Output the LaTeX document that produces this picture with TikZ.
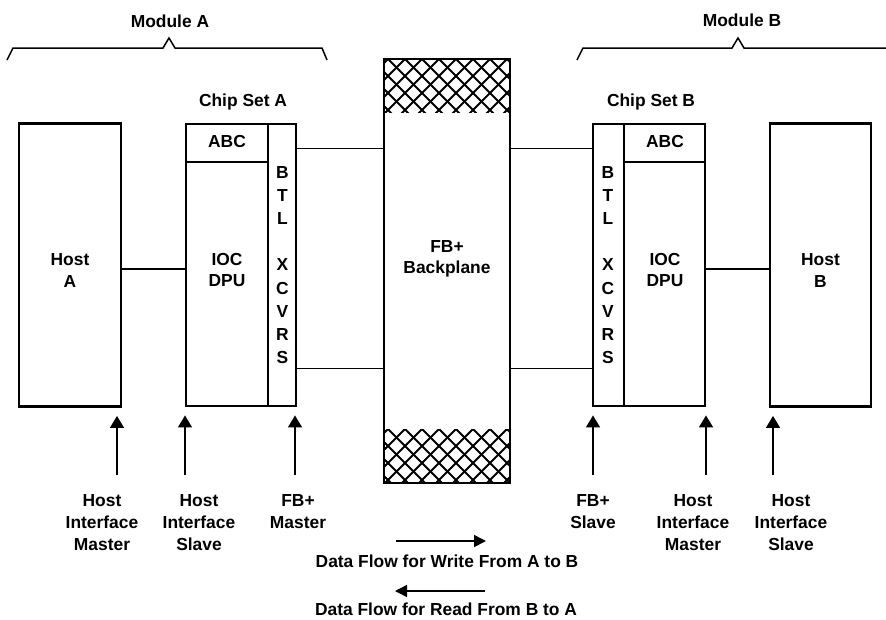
\documentclass[tikz,border=0pt]{standalone}
\usepackage{fontspec}
\setmainfont{Liberation Sans}
\usetikzlibrary{arrows.meta}
\begin{document}
\begin{tikzpicture}[x=1pt,y=-1pt,
  blk/.style={draw,line width=2.8pt,inner sep=0pt},
  divider/.style={line width=2pt},
  lbl/.style={font=\fontsize{17.4}{22}\selectfont\bfseries,align=center,inner sep=0pt},
  conn/.style={line width=1.2pt},
  arr/.style={line width=1.5pt,shorten >=8pt,-{Triangle[length=12pt,width=14pt]}},
  flow/.style={line width=1.5pt,-{Triangle[length=12pt,width=12pt]}},
  bracket/.style={line width=1.5pt,line join=miter},
  hatch/.style={line width=2pt}]
\useasboundingbox (0,0) rectangle (886,619);
\fill[white] (0,0) rectangle (886,619);

% module brackets
\node[lbl] (modA) at (170,21) {Module A};
\draw[bracket] (7,60) -- (13,48) -- (163,48) -- (169,38) -- (175,48) -- (322,48) -- (327,60);
\node[lbl] (modB) at (742,20) {Module B};
\draw[bracket] (577,60) -- (583,48) -- (732,48) -- (738,38) -- (744,48) -- (886,48);

% backplane hatching
\begin{scope}
  \clip (384,59) rectangle (510,112);
  \foreach \k in {-4,...,11} {
    \draw[hatch] (388+17*\k,59) -- ++(60,60);
    \draw[hatch] (388+17*\k,59) -- ++(-60,60);
  }
\end{scope}
\begin{scope}
  \clip (384,429) rectangle (510,483);
  \foreach \k in {-4,...,11} {
    \draw[hatch] (388+17*\k,429) -- ++(60,60);
    \draw[hatch] (388+17*\k,429) -- ++(-60,60);
  }
\end{scope}

% boxes
\node[blk,minimum width=102pt,minimum height=283pt] (hostA) at (70,265) {};
\node[blk,minimum width=110pt,minimum height=282pt] (chipA) at (241,265) {};
\node[blk,minimum width=126pt,minimum height=424pt] (bp) at (447,271) {};
\node[blk,minimum width=112pt,minimum height=282pt] (chipB) at (649,265) {};
\node[blk,minimum width=101pt,minimum height=283pt] (hostB) at (820.5,265) {};

% chip set internal dividers
\draw[divider] (268,124) -- (268,406);
\draw[divider] (186,162) -- (268,162);
\draw[divider] (624,124) -- (624,406);
\draw[divider] (624,162) -- (705,162);

% titles
\node[lbl] (csA) at (243,102) {Chip Set A};
\node[lbl] (csB) at (651,102) {Chip Set B};

% box texts
\node[lbl] (hostAt) at (70,271) {Host\\A};
\node[lbl] (abcA) at (227,142) {ABC};
\node[lbl,font=\fontsize{17.4}{21}\selectfont\bfseries] (iocA) at (227,270.5) {IOC\\DPU};
\node[lbl,font=\fontsize{17.4}{23.2}\selectfont\bfseries] (btlA) at (282.5,265) {B\\T\\L\\[23.2pt]X\\C\\V\\R\\S};
\node[lbl,font=\fontsize{17.4}{21}\selectfont\bfseries] (bpt) at (447,259) {FB+\\Backplane};
\node[lbl,font=\fontsize{17.4}{23.2}\selectfont\bfseries] (btlB) at (608,265) {B\\T\\L\\[23.2pt]X\\C\\V\\R\\S};
\node[lbl] (abcB) at (665,142) {ABC};
\node[lbl,font=\fontsize{17.4}{21}\selectfont\bfseries] (iocB) at (665,270.5) {IOC\\DPU};
\node[lbl] (hostBt) at (820.5,271) {Host\\B};

% connectors
\draw[conn] ([yshift=-4pt]hostA.east) -- ([yshift=-4pt]chipA.west);
\draw[conn] ([yshift=-26pt]chipA.north east) coordinate (ca1) -- (ca1 -| bp.west);
\draw[conn] ([yshift=39pt]chipA.south east) coordinate (ca2) -- (ca2 -| bp.west);
\draw[conn] ([yshift=-26pt]chipB.north west) coordinate (cb1) -- (cb1 -| bp.east);
\draw[conn] ([yshift=39pt]chipB.south west) coordinate (cb2) -- (cb2 -| bp.east);
\draw[conn] ([yshift=-4pt]chipB.east) -- ([yshift=-4pt]hostB.west);

% bottom labels
\node[lbl,anchor=north] (l1) at (102,494) {Host\\Interface\\Master};
\node[lbl,anchor=north] (l2) at (199,494) {Host\\Interface\\Slave};
\node[lbl,anchor=north] (l3) at (298,494) {FB+\\Master};
\node[lbl,anchor=north] (l4) at (593,494) {FB+\\Slave};
\node[lbl,anchor=north] (l5) at (693,494) {Host\\Interface\\Master};
\node[lbl,anchor=north] (l6) at (791,494) {Host\\Interface\\Slave};

% signal arrows
\coordinate (a1) at (117,475);
\coordinate (a2) at (185,475);
\coordinate (a3) at (295,475);
\coordinate (a4) at (593,475);
\coordinate (a5) at (706,475);
\coordinate (a6) at (773,475);
\draw[arr] (a1) -- (a1 |- hostA.south);
\draw[arr] (a2) -- (a2 |- chipA.south);
\draw[arr] (a3) -- (a3 |- chipA.south);
\draw[arr] (a4) -- (a4 |- chipB.south);
\draw[arr] (a5) -- (a5 |- chipB.south);
\draw[arr] (a6) -- (a6 |- hostB.south);

% data flow
\coordinate (w1) at (396,541);
\coordinate (w2) at (486,541);
\draw[flow] (w1) -- (w2);
\node[lbl] (wt) at (447,561) {Data Flow for Write From A to B};
\coordinate (r1) at (485,591);
\coordinate (r2) at (395,591);
\draw[flow] (r1) -- (r2);
\node[lbl] (rt) at (446,609) {Data Flow for Read From B to A};
\end{tikzpicture}
\end{document}
